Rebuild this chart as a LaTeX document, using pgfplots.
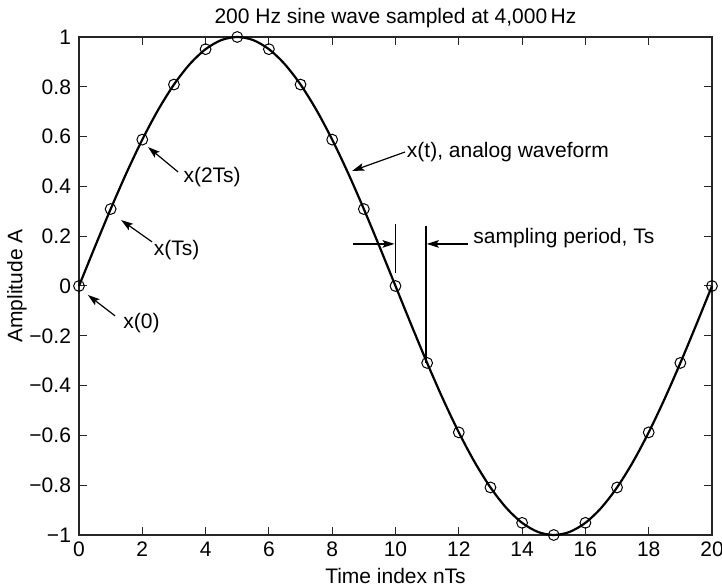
\documentclass[border=0pt]{standalone}
\usepackage{fontspec}
\setmainfont{Liberation Sans}
\usepackage{pgfplots}
\pgfplotsset{compat=1.18}
\usetikzlibrary{arrows.meta}

% samples x(nTs), n = 0..20
\pgfplotstableread{
n y
0 0
1 0.3090
2 0.5878
3 0.8090
4 0.9511
5 1
6 0.9511
7 0.8090
8 0.5878
9 0.3090
10 0
11 -0.3090
12 -0.5878
13 -0.8090
14 -0.9511
15 -1
16 -0.9511
17 -0.8090
18 -0.5878
19 -0.3090
20 0
}\samples

\begin{document}
\begin{tikzpicture}[>={Stealth[length=6pt,width=3.8pt,inset=1.2pt]}]
\begin{axis}[
    scale only axis,
    width=316.5pt, height=249pt,
    xmin=0, xmax=20, ymin=-1, ymax=1,
    xtick={0,2,4,6,8,10,12,14,16,18,20},
    ytick={-1,-0.8,-0.6,-0.4,-0.2,0,0.2,0.4,0.6,0.8,1},
    yticklabels={−1,−0.8,−0.6,−0.4,−0.2,0,0.2,0.4,0.6,0.8,1},
    tick align=inside,
    major tick length=4pt,
    tick style={line width=0.5pt, black!85},
    axis line style={line width=0.6pt, black!85},
    font=\fontsize{10.5}{12}\selectfont,
    /pgf/number format/assume math mode=true,
    yticklabel style={xshift=-0.5pt},
    title={200 Hz sine wave sampled at 4,000\,Hz},
    title style={at={(axis description cs:0.5,1)}, anchor=base, yshift=0.5pt},
    xlabel={Time index nTs},
    xlabel style={at={(axis description cs:0.5,0)}, anchor=base, yshift=-24.5pt},
    ylabel={Amplitude A},
    ylabel style={at={(axis description cs:-0.098,0.5)}, anchor=center},
    clip=false,
]
% analog waveform x(t)
\addplot[line width=1.1pt, black, smooth] coordinates {
(0,0) (0.5,0.1564) (1,0.3090) (1.5,0.4540) (2,0.5878) (2.5,0.7071)
(3,0.8090) (3.5,0.8910) (4,0.9511) (4.5,0.9877) (5,1) (5.5,0.9877)
(6,0.9511) (6.5,0.8910) (7,0.8090) (7.5,0.7071) (8,0.5878) (8.5,0.4540)
(9,0.3090) (9.5,0.1564) (10,0) (10.5,-0.1564) (11,-0.3090) (11.5,-0.4540)
(12,-0.5878) (12.5,-0.7071) (13,-0.8090) (13.5,-0.8910) (14,-0.9511)
(14.5,-0.9877) (15,-1) (15.5,-0.9877) (16,-0.9511) (16.5,-0.8910)
(17,-0.8090) (17.5,-0.7071) (18,-0.5878) (18.5,-0.4540) (19,-0.3090)
(19.5,-0.1564) (20,0)
};
% samples
\addplot[only marks, mark=o, mark size=2.7pt, mark options={line width=0.5pt, black}] table[x=n, y=y] {\samples};

% annotations
\draw[->, line width=0.6pt] (axis cs:1.14,-0.12) -- (axis cs:0.28,-0.036);
\node[anchor=west, inner sep=0pt] at (axis cs:1.39,-0.15) {x(0)};
\draw[->, line width=0.6pt] (axis cs:2.31,0.177) -- (axis cs:1.33,0.265);
\node[anchor=west, inner sep=0pt] at (axis cs:2.35,0.145) {x(Ts)};
\draw[->, line width=0.6pt] (axis cs:3.13,0.458) -- (axis cs:2.18,0.558);
\node[anchor=west, inner sep=0pt] at (axis cs:3.29,0.438) {x(2Ts)};
\draw[->, line width=0.6pt] (axis cs:10.3,0.538) -- (axis cs:8.63,0.462);
\node[anchor=west, inner sep=0pt] at (axis cs:10.35,0.538) {x(t), analog waveform};
% sampling period
\draw[line width=0.8pt] (axis cs:10,0.249) -- (axis cs:10,0.052);
\draw[line width=0.8pt] (axis cs:10.96,0.241) -- (axis cs:10.96,-0.309);
\draw[->, line width=0.6pt] (axis cs:8.66,0.169) -- (axis cs:9.97,0.169);
\draw[->, line width=0.6pt] (axis cs:12.29,0.169) -- (axis cs:10.99,0.169);
\node[anchor=west, inner sep=0pt] at (axis cs:12.45,0.193) {sampling period, Ts};

\coordinate (bl) at (rel axis cs:0,0);
\coordinate (tr) at (rel axis cs:1,1);
\end{axis}
\pgfresetboundingbox
\path ([xshift=-39.5pt,yshift=-26.5pt]bl) rectangle ([xshift=5pt,yshift=18.5pt]tr);
\end{tikzpicture}
\end{document}
